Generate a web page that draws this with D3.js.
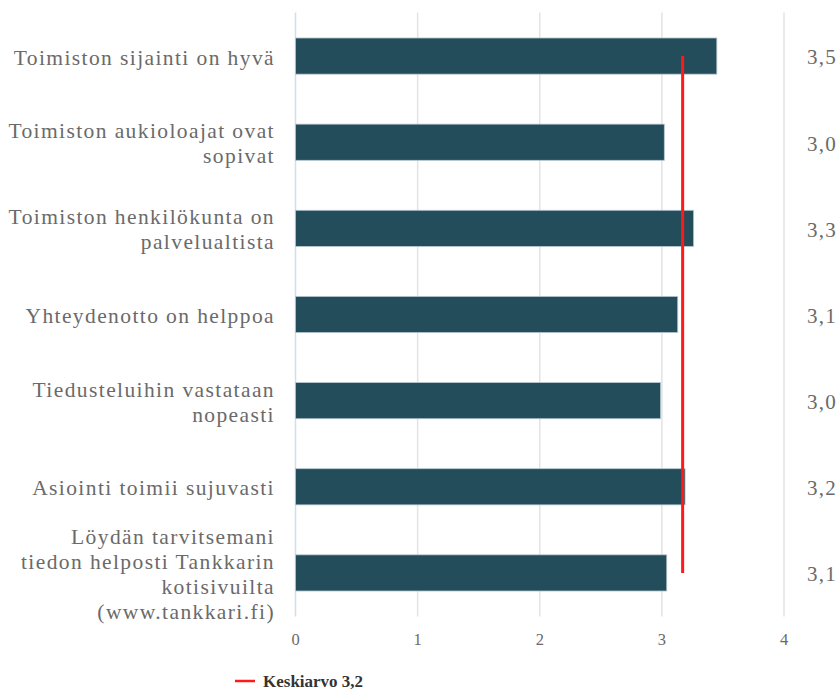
<!DOCTYPE html>
<html>
<head>
<meta charset="utf-8">
<script src="https://cdn.jsdelivr.net/npm/d3@7"></script>
<style>
  body { margin: 0; background: #fff; }
  svg { display: block; font-family: "Liberation Serif", "Times New Roman", serif; }
</style>
</head>
<body>
<script>
// kysymykset (rivit erotettu \n)
const categories = [
    "Toimiston sijainti on hyvä",
    "Toimiston aukioloajat ovat\nsopivat",
    "Toimiston henkilökunta on\npalvelualtista",
    "Yhteydenotto on helppoa",
    "Tiedusteluihin vastataan\nnopeasti",
    "Asiointi toimii sujuvasti",
    "Löydän tarvitsemani\ntiedon helposti Tankkarin\nkotisivuilta\n(www.tankkari.fi)"
];
const values = [3.45, 3.02, 3.26, 3.13, 2.99, 3.19, 3.04];
const valueLabels = ["3,5", "3,0", "3,3", "3,1", "3,0", "3,2", "3,1"];
const mean = 3.17;
const meanLabel = "Keskiarvo 3,2";
const ticks = [0, 1, 2, 3, 4];

const width = 839, height = 690;

let svg = d3.select('body').append('svg')
    .attr('width', width)
    .attr('height', height);

let x = d3.scaleLinear()
    .domain([0, 4])
    .range([295.5, 784]);

let y = d3.scaleBand()
    .domain(categories)
    .range([13, 616])
    .paddingInner(0.58)
    .paddingOuter(0.29);

// gridlines
svg.append('g')
    .selectAll('line')
    .data(ticks)
    .enter()
    .append('line')
    .attr('x1', (d) => x(d))
    .attr('x2', (d) => x(d))
    .attr('y1', 12.5)
    .attr('y2', 616.5)
    .attr('stroke', (d) => d == 0 ? '#d3deec' : '#e3e3e3')
    .attr('stroke-width', 1.5);

// x-akselin luvut
svg.append('g')
    .selectAll('text')
    .data(ticks)
    .enter()
    .append('text')
    .attr('x', (d) => x(d))
    .attr('y', 639)
    .attr('dy', '0.35em')
    .attr('text-anchor', 'middle')
    .style('font-size', '16.5px')
    .style('fill', '#6a6a6a')
    .text((d) => d);

// palkit
svg.append('g')
    .selectAll('rect')
    .data(categories)
    .enter()
    .append('rect')
    .attr('x', x(0))
    .attr('y', (d) => y(d))
    .attr('width', (d, i) => x(values[i]) - x(0))
    .attr('height', y.bandwidth())
    .attr('fill', '#234d5a')
    .attr('stroke', '#b9c8d2')
    .attr('stroke-width', 0.8);

// kysymysten tekstit
let label = svg.append('g')
    .selectAll('text')
    .data(categories)
    .enter()
    .append('text')
    .attr('text-anchor', 'end')
    .style('font-size', '21.5px')
    .style('letter-spacing', '1.4px')
    .style('fill', '#6a6a6a');

label.each(function(d) {
    let lines = d.split('\n');
    let cy = y(d) + y.bandwidth() / 2 + 1;
    let lh = 25;
    let t = d3.select(this);
    lines.forEach((s, k) => {
        t.append('tspan')
            .attr('x', 275)
            .attr('y', cy + (k - (lines.length - 1) / 2) * lh)
            .attr('dy', '0.35em')
            .text(s);
    });
});

// arvot oikealla
svg.append('g')
    .selectAll('text')
    .data(categories)
    .enter()
    .append('text')
    .attr('x', 807)
    .attr('y', (d) => y(d) + y.bandwidth() / 2 + 1)
    .attr('dy', '0.35em')
    .style('font-size', '21px')
    .style('letter-spacing', '1.2px')
    .style('fill', '#6a6a6a')
    .text((d, i) => valueLabels[i]);

// keskiarvoviiva
svg.append('line')
    .attr('x1', x(mean))
    .attr('x2', x(mean))
    .attr('y1', y(categories[0]) + y.bandwidth() / 2)
    .attr('y2', y(categories[categories.length - 1]) + y.bandwidth() / 2)
    .attr('stroke', '#ff1a1a')
    .attr('stroke-width', 3);

// selite
let legend = svg.append('g')
    .attr('transform', 'translate(235,681)');

legend.append('line')
    .attr('x1', 0)
    .attr('x2', 20)
    .attr('stroke', '#ff1a1a')
    .attr('stroke-width', 2.5);

legend.append('text')
    .attr('x', 28)
    .attr('dy', '0.33em')
    .style('font-size', '17px')
    .style('font-weight', 'bold')
    .style('fill', '#333')
    .text(meanLabel);
</script>
</body>
</html>
